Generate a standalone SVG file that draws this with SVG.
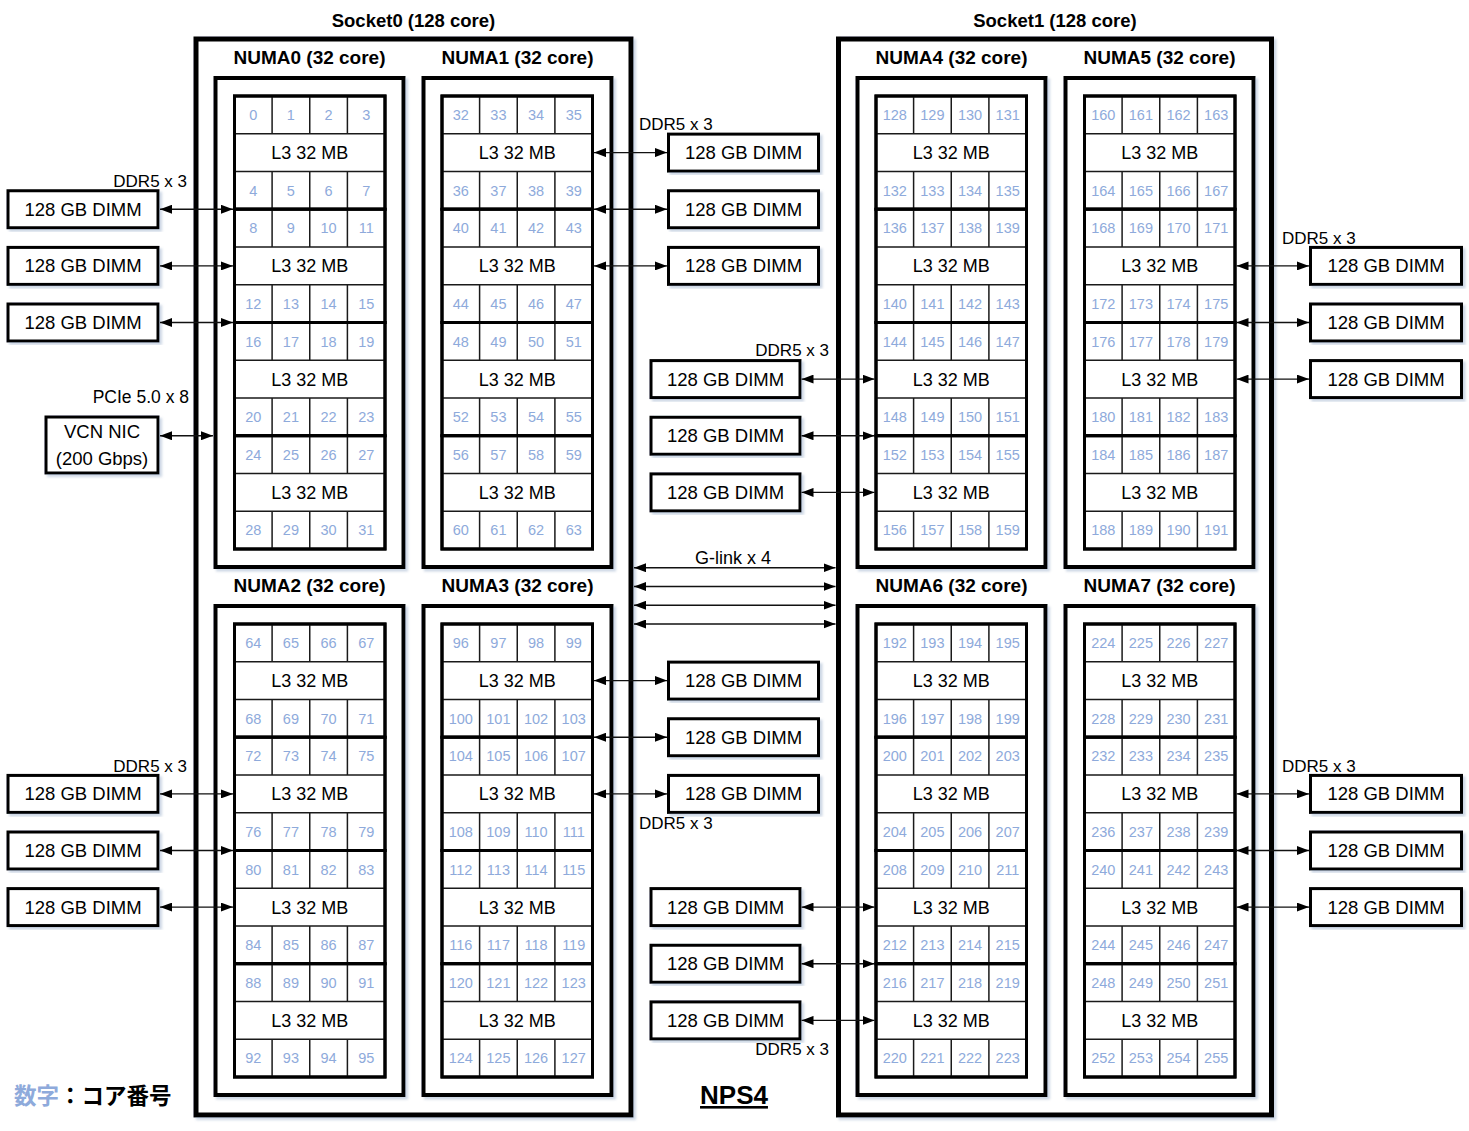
<svg xmlns="http://www.w3.org/2000/svg" xmlns:xlink="http://www.w3.org/1999/xlink" width="1469" height="1131" viewBox="0 0 1469 1131">
<style>
text{font-family:'Liberation Sans',Arial,sans-serif;fill:#000}
.sock{fill:#fff;stroke:#000;stroke-width:5;filter:url(#sh)}
.numa{fill:#fff;stroke:#000;stroke-width:4;filter:url(#sh)}
.ccd{fill:#fff;stroke:#000;stroke-width:3}
.in{fill:none;stroke:#1a1a1a;stroke-width:1.5}
.dimm{fill:#fff;stroke:#000;stroke-width:3;filter:url(#sh)}
.c{font-size:14.5px;fill:#8eaadb;text-anchor:middle}
.l3{font-size:18px;text-anchor:middle}
.dt{font-size:18.5px;text-anchor:middle}
.h1{font-size:18.5px;font-weight:bold;text-anchor:middle}
.h2{font-size:19px;font-weight:bold;text-anchor:middle}
.lb{font-size:17px}
.ar{stroke:#111;stroke-width:1.4;fill:none;marker-start:url(#ah);marker-end:url(#ah)}
</style>
<defs>
<filter id="sh" x="-5%" y="-5%" width="115%" height="115%"><feDropShadow dx="2.5" dy="2.5" stdDeviation="1" flood-color="#8fa6c4" flood-opacity="0.45"/></filter>
<marker id="ah" viewBox="0 0 12 9" refX="12" refY="4.5" markerWidth="12" markerHeight="9" markerUnits="userSpaceOnUse" orient="auto-start-reverse"><path d="M0,0L12,4.5L0,9z" fill="#000"/></marker>
<g id="fr"><rect class="ccd" width="150.5" height="113.25"/><path class="in" d="M0 37.75H150.5M0 75.5H150.5M37.6 0V37.75M75.25 0V37.75M112.9 0V37.75M37.6 75.5V113.25M75.25 75.5V113.25M112.9 75.5V113.25"/><rect width="150.5" height="113.25" fill="none" stroke="#000" stroke-width="3"/></g>
</defs>
<rect width="1469" height="1131" fill="#fff"/>

<g id="socket0">
<rect class="sock" x="196" y="39" width="435" height="1076"/>
<text class="h1" x="413.5" y="27">Socket0 (128 core)</text>
</g>
<g id="socket1">
<rect class="sock" x="838.5" y="39" width="433" height="1076"/>
<text class="h1" x="1055" y="27">Socket1 (128 core)</text>
</g>

<g id="numa0">
<rect class="numa" x="215.5" y="78" width="188" height="489"/>
<text class="h2" x="309.5" y="64">NUMA0 (32 core)</text>
<g transform="translate(234.5,96)">
<g><use href="#fr"/><text class="c" y="24.1"><tspan x="18.8">0</tspan><tspan x="56.4">1</tspan><tspan x="94.1">2</tspan><tspan x="131.7">3</tspan></text><text class="l3" x="75.25" y="63">L3 32 MB</text><text class="c" y="99.6"><tspan x="18.8">4</tspan><tspan x="56.4">5</tspan><tspan x="94.1">6</tspan><tspan x="131.7">7</tspan></text></g>
<g transform="translate(0,113.25)"><use href="#fr"/><text class="c" y="24.1"><tspan x="18.8">8</tspan><tspan x="56.4">9</tspan><tspan x="94.1">10</tspan><tspan x="131.7">11</tspan></text><text class="l3" x="75.25" y="63">L3 32 MB</text><text class="c" y="99.6"><tspan x="18.8">12</tspan><tspan x="56.4">13</tspan><tspan x="94.1">14</tspan><tspan x="131.7">15</tspan></text></g>
<g transform="translate(0,226.5)"><use href="#fr"/><text class="c" y="24.1"><tspan x="18.8">16</tspan><tspan x="56.4">17</tspan><tspan x="94.1">18</tspan><tspan x="131.7">19</tspan></text><text class="l3" x="75.25" y="63">L3 32 MB</text><text class="c" y="99.6"><tspan x="18.8">20</tspan><tspan x="56.4">21</tspan><tspan x="94.1">22</tspan><tspan x="131.7">23</tspan></text></g>
<g transform="translate(0,339.75)"><use href="#fr"/><text class="c" y="24.1"><tspan x="18.8">24</tspan><tspan x="56.4">25</tspan><tspan x="94.1">26</tspan><tspan x="131.7">27</tspan></text><text class="l3" x="75.25" y="63">L3 32 MB</text><text class="c" y="99.6"><tspan x="18.8">28</tspan><tspan x="56.4">29</tspan><tspan x="94.1">30</tspan><tspan x="131.7">31</tspan></text></g>
</g>
</g>

<g id="numa1">
<rect class="numa" x="423.5" y="78" width="188" height="489"/>
<text class="h2" x="517.5" y="64">NUMA1 (32 core)</text>
<g transform="translate(442,96)">
<g><use href="#fr"/><text class="c" y="24.1"><tspan x="18.8">32</tspan><tspan x="56.4">33</tspan><tspan x="94.1">34</tspan><tspan x="131.7">35</tspan></text><text class="l3" x="75.25" y="63">L3 32 MB</text><text class="c" y="99.6"><tspan x="18.8">36</tspan><tspan x="56.4">37</tspan><tspan x="94.1">38</tspan><tspan x="131.7">39</tspan></text></g>
<g transform="translate(0,113.25)"><use href="#fr"/><text class="c" y="24.1"><tspan x="18.8">40</tspan><tspan x="56.4">41</tspan><tspan x="94.1">42</tspan><tspan x="131.7">43</tspan></text><text class="l3" x="75.25" y="63">L3 32 MB</text><text class="c" y="99.6"><tspan x="18.8">44</tspan><tspan x="56.4">45</tspan><tspan x="94.1">46</tspan><tspan x="131.7">47</tspan></text></g>
<g transform="translate(0,226.5)"><use href="#fr"/><text class="c" y="24.1"><tspan x="18.8">48</tspan><tspan x="56.4">49</tspan><tspan x="94.1">50</tspan><tspan x="131.7">51</tspan></text><text class="l3" x="75.25" y="63">L3 32 MB</text><text class="c" y="99.6"><tspan x="18.8">52</tspan><tspan x="56.4">53</tspan><tspan x="94.1">54</tspan><tspan x="131.7">55</tspan></text></g>
<g transform="translate(0,339.75)"><use href="#fr"/><text class="c" y="24.1"><tspan x="18.8">56</tspan><tspan x="56.4">57</tspan><tspan x="94.1">58</tspan><tspan x="131.7">59</tspan></text><text class="l3" x="75.25" y="63">L3 32 MB</text><text class="c" y="99.6"><tspan x="18.8">60</tspan><tspan x="56.4">61</tspan><tspan x="94.1">62</tspan><tspan x="131.7">63</tspan></text></g>
</g>
</g>

<g id="numa2">
<rect class="numa" x="215.5" y="606" width="188" height="489"/>
<text class="h2" x="309.5" y="592">NUMA2 (32 core)</text>
<g transform="translate(234.5,624)">
<g><use href="#fr"/><text class="c" y="24.1"><tspan x="18.8">64</tspan><tspan x="56.4">65</tspan><tspan x="94.1">66</tspan><tspan x="131.7">67</tspan></text><text class="l3" x="75.25" y="63">L3 32 MB</text><text class="c" y="99.6"><tspan x="18.8">68</tspan><tspan x="56.4">69</tspan><tspan x="94.1">70</tspan><tspan x="131.7">71</tspan></text></g>
<g transform="translate(0,113.25)"><use href="#fr"/><text class="c" y="24.1"><tspan x="18.8">72</tspan><tspan x="56.4">73</tspan><tspan x="94.1">74</tspan><tspan x="131.7">75</tspan></text><text class="l3" x="75.25" y="63">L3 32 MB</text><text class="c" y="99.6"><tspan x="18.8">76</tspan><tspan x="56.4">77</tspan><tspan x="94.1">78</tspan><tspan x="131.7">79</tspan></text></g>
<g transform="translate(0,226.5)"><use href="#fr"/><text class="c" y="24.1"><tspan x="18.8">80</tspan><tspan x="56.4">81</tspan><tspan x="94.1">82</tspan><tspan x="131.7">83</tspan></text><text class="l3" x="75.25" y="63">L3 32 MB</text><text class="c" y="99.6"><tspan x="18.8">84</tspan><tspan x="56.4">85</tspan><tspan x="94.1">86</tspan><tspan x="131.7">87</tspan></text></g>
<g transform="translate(0,339.75)"><use href="#fr"/><text class="c" y="24.1"><tspan x="18.8">88</tspan><tspan x="56.4">89</tspan><tspan x="94.1">90</tspan><tspan x="131.7">91</tspan></text><text class="l3" x="75.25" y="63">L3 32 MB</text><text class="c" y="99.6"><tspan x="18.8">92</tspan><tspan x="56.4">93</tspan><tspan x="94.1">94</tspan><tspan x="131.7">95</tspan></text></g>
</g>
</g>

<g id="numa3">
<rect class="numa" x="423.5" y="606" width="188" height="489"/>
<text class="h2" x="517.5" y="592">NUMA3 (32 core)</text>
<g transform="translate(442,624)">
<g><use href="#fr"/><text class="c" y="24.1"><tspan x="18.8">96</tspan><tspan x="56.4">97</tspan><tspan x="94.1">98</tspan><tspan x="131.7">99</tspan></text><text class="l3" x="75.25" y="63">L3 32 MB</text><text class="c" y="99.6"><tspan x="18.8">100</tspan><tspan x="56.4">101</tspan><tspan x="94.1">102</tspan><tspan x="131.7">103</tspan></text></g>
<g transform="translate(0,113.25)"><use href="#fr"/><text class="c" y="24.1"><tspan x="18.8">104</tspan><tspan x="56.4">105</tspan><tspan x="94.1">106</tspan><tspan x="131.7">107</tspan></text><text class="l3" x="75.25" y="63">L3 32 MB</text><text class="c" y="99.6"><tspan x="18.8">108</tspan><tspan x="56.4">109</tspan><tspan x="94.1">110</tspan><tspan x="131.7">111</tspan></text></g>
<g transform="translate(0,226.5)"><use href="#fr"/><text class="c" y="24.1"><tspan x="18.8">112</tspan><tspan x="56.4">113</tspan><tspan x="94.1">114</tspan><tspan x="131.7">115</tspan></text><text class="l3" x="75.25" y="63">L3 32 MB</text><text class="c" y="99.6"><tspan x="18.8">116</tspan><tspan x="56.4">117</tspan><tspan x="94.1">118</tspan><tspan x="131.7">119</tspan></text></g>
<g transform="translate(0,339.75)"><use href="#fr"/><text class="c" y="24.1"><tspan x="18.8">120</tspan><tspan x="56.4">121</tspan><tspan x="94.1">122</tspan><tspan x="131.7">123</tspan></text><text class="l3" x="75.25" y="63">L3 32 MB</text><text class="c" y="99.6"><tspan x="18.8">124</tspan><tspan x="56.4">125</tspan><tspan x="94.1">126</tspan><tspan x="131.7">127</tspan></text></g>
</g>
</g>

<g id="numa4">
<rect class="numa" x="857.5" y="78" width="188" height="489"/>
<text class="h2" x="951.5" y="64">NUMA4 (32 core)</text>
<g transform="translate(876,96)">
<g><use href="#fr"/><text class="c" y="24.1"><tspan x="18.8">128</tspan><tspan x="56.4">129</tspan><tspan x="94.1">130</tspan><tspan x="131.7">131</tspan></text><text class="l3" x="75.25" y="63">L3 32 MB</text><text class="c" y="99.6"><tspan x="18.8">132</tspan><tspan x="56.4">133</tspan><tspan x="94.1">134</tspan><tspan x="131.7">135</tspan></text></g>
<g transform="translate(0,113.25)"><use href="#fr"/><text class="c" y="24.1"><tspan x="18.8">136</tspan><tspan x="56.4">137</tspan><tspan x="94.1">138</tspan><tspan x="131.7">139</tspan></text><text class="l3" x="75.25" y="63">L3 32 MB</text><text class="c" y="99.6"><tspan x="18.8">140</tspan><tspan x="56.4">141</tspan><tspan x="94.1">142</tspan><tspan x="131.7">143</tspan></text></g>
<g transform="translate(0,226.5)"><use href="#fr"/><text class="c" y="24.1"><tspan x="18.8">144</tspan><tspan x="56.4">145</tspan><tspan x="94.1">146</tspan><tspan x="131.7">147</tspan></text><text class="l3" x="75.25" y="63">L3 32 MB</text><text class="c" y="99.6"><tspan x="18.8">148</tspan><tspan x="56.4">149</tspan><tspan x="94.1">150</tspan><tspan x="131.7">151</tspan></text></g>
<g transform="translate(0,339.75)"><use href="#fr"/><text class="c" y="24.1"><tspan x="18.8">152</tspan><tspan x="56.4">153</tspan><tspan x="94.1">154</tspan><tspan x="131.7">155</tspan></text><text class="l3" x="75.25" y="63">L3 32 MB</text><text class="c" y="99.6"><tspan x="18.8">156</tspan><tspan x="56.4">157</tspan><tspan x="94.1">158</tspan><tspan x="131.7">159</tspan></text></g>
</g>
</g>

<g id="numa5">
<rect class="numa" x="1065.5" y="78" width="188" height="489"/>
<text class="h2" x="1159.5" y="64">NUMA5 (32 core)</text>
<g transform="translate(1084.5,96)">
<g><use href="#fr"/><text class="c" y="24.1"><tspan x="18.8">160</tspan><tspan x="56.4">161</tspan><tspan x="94.1">162</tspan><tspan x="131.7">163</tspan></text><text class="l3" x="75.25" y="63">L3 32 MB</text><text class="c" y="99.6"><tspan x="18.8">164</tspan><tspan x="56.4">165</tspan><tspan x="94.1">166</tspan><tspan x="131.7">167</tspan></text></g>
<g transform="translate(0,113.25)"><use href="#fr"/><text class="c" y="24.1"><tspan x="18.8">168</tspan><tspan x="56.4">169</tspan><tspan x="94.1">170</tspan><tspan x="131.7">171</tspan></text><text class="l3" x="75.25" y="63">L3 32 MB</text><text class="c" y="99.6"><tspan x="18.8">172</tspan><tspan x="56.4">173</tspan><tspan x="94.1">174</tspan><tspan x="131.7">175</tspan></text></g>
<g transform="translate(0,226.5)"><use href="#fr"/><text class="c" y="24.1"><tspan x="18.8">176</tspan><tspan x="56.4">177</tspan><tspan x="94.1">178</tspan><tspan x="131.7">179</tspan></text><text class="l3" x="75.25" y="63">L3 32 MB</text><text class="c" y="99.6"><tspan x="18.8">180</tspan><tspan x="56.4">181</tspan><tspan x="94.1">182</tspan><tspan x="131.7">183</tspan></text></g>
<g transform="translate(0,339.75)"><use href="#fr"/><text class="c" y="24.1"><tspan x="18.8">184</tspan><tspan x="56.4">185</tspan><tspan x="94.1">186</tspan><tspan x="131.7">187</tspan></text><text class="l3" x="75.25" y="63">L3 32 MB</text><text class="c" y="99.6"><tspan x="18.8">188</tspan><tspan x="56.4">189</tspan><tspan x="94.1">190</tspan><tspan x="131.7">191</tspan></text></g>
</g>
</g>

<g id="numa6">
<rect class="numa" x="857.5" y="606" width="188" height="489"/>
<text class="h2" x="951.5" y="592">NUMA6 (32 core)</text>
<g transform="translate(876,624)">
<g><use href="#fr"/><text class="c" y="24.1"><tspan x="18.8">192</tspan><tspan x="56.4">193</tspan><tspan x="94.1">194</tspan><tspan x="131.7">195</tspan></text><text class="l3" x="75.25" y="63">L3 32 MB</text><text class="c" y="99.6"><tspan x="18.8">196</tspan><tspan x="56.4">197</tspan><tspan x="94.1">198</tspan><tspan x="131.7">199</tspan></text></g>
<g transform="translate(0,113.25)"><use href="#fr"/><text class="c" y="24.1"><tspan x="18.8">200</tspan><tspan x="56.4">201</tspan><tspan x="94.1">202</tspan><tspan x="131.7">203</tspan></text><text class="l3" x="75.25" y="63">L3 32 MB</text><text class="c" y="99.6"><tspan x="18.8">204</tspan><tspan x="56.4">205</tspan><tspan x="94.1">206</tspan><tspan x="131.7">207</tspan></text></g>
<g transform="translate(0,226.5)"><use href="#fr"/><text class="c" y="24.1"><tspan x="18.8">208</tspan><tspan x="56.4">209</tspan><tspan x="94.1">210</tspan><tspan x="131.7">211</tspan></text><text class="l3" x="75.25" y="63">L3 32 MB</text><text class="c" y="99.6"><tspan x="18.8">212</tspan><tspan x="56.4">213</tspan><tspan x="94.1">214</tspan><tspan x="131.7">215</tspan></text></g>
<g transform="translate(0,339.75)"><use href="#fr"/><text class="c" y="24.1"><tspan x="18.8">216</tspan><tspan x="56.4">217</tspan><tspan x="94.1">218</tspan><tspan x="131.7">219</tspan></text><text class="l3" x="75.25" y="63">L3 32 MB</text><text class="c" y="99.6"><tspan x="18.8">220</tspan><tspan x="56.4">221</tspan><tspan x="94.1">222</tspan><tspan x="131.7">223</tspan></text></g>
</g>
</g>

<g id="numa7">
<rect class="numa" x="1065.5" y="606" width="188" height="489"/>
<text class="h2" x="1159.5" y="592">NUMA7 (32 core)</text>
<g transform="translate(1084.5,624)">
<g><use href="#fr"/><text class="c" y="24.1"><tspan x="18.8">224</tspan><tspan x="56.4">225</tspan><tspan x="94.1">226</tspan><tspan x="131.7">227</tspan></text><text class="l3" x="75.25" y="63">L3 32 MB</text><text class="c" y="99.6"><tspan x="18.8">228</tspan><tspan x="56.4">229</tspan><tspan x="94.1">230</tspan><tspan x="131.7">231</tspan></text></g>
<g transform="translate(0,113.25)"><use href="#fr"/><text class="c" y="24.1"><tspan x="18.8">232</tspan><tspan x="56.4">233</tspan><tspan x="94.1">234</tspan><tspan x="131.7">235</tspan></text><text class="l3" x="75.25" y="63">L3 32 MB</text><text class="c" y="99.6"><tspan x="18.8">236</tspan><tspan x="56.4">237</tspan><tspan x="94.1">238</tspan><tspan x="131.7">239</tspan></text></g>
<g transform="translate(0,226.5)"><use href="#fr"/><text class="c" y="24.1"><tspan x="18.8">240</tspan><tspan x="56.4">241</tspan><tspan x="94.1">242</tspan><tspan x="131.7">243</tspan></text><text class="l3" x="75.25" y="63">L3 32 MB</text><text class="c" y="99.6"><tspan x="18.8">244</tspan><tspan x="56.4">245</tspan><tspan x="94.1">246</tspan><tspan x="131.7">247</tspan></text></g>
<g transform="translate(0,339.75)"><use href="#fr"/><text class="c" y="24.1"><tspan x="18.8">248</tspan><tspan x="56.4">249</tspan><tspan x="94.1">250</tspan><tspan x="131.7">251</tspan></text><text class="l3" x="75.25" y="63">L3 32 MB</text><text class="c" y="99.6"><tspan x="18.8">252</tspan><tspan x="56.4">253</tspan><tspan x="94.1">254</tspan><tspan x="131.7">255</tspan></text></g>
</g>
</g>

<g id="dimm-n0-1"><rect class="dimm" x="8" y="190.75" width="150" height="37"/><text class="dt" x="83" y="215.75">128 GB DIMM</text></g>
<g id="dimm-n0-2"><rect class="dimm" x="8" y="247.4" width="150" height="37"/><text class="dt" x="83" y="272.4">128 GB DIMM</text></g>
<g id="dimm-n0-3"><rect class="dimm" x="8" y="304" width="150" height="37"/><text class="dt" x="83" y="329">128 GB DIMM</text></g>
<g id="nic"><rect class="dimm" x="46" y="417" width="112" height="56"/><text class="dt" x="102" y="438.3">VCN NIC</text><text class="dt" x="102" y="465">(200 Gbps)</text></g>

<g id="dimm-n1-1"><rect class="dimm" x="668.5" y="134.1" width="150" height="37"/><text class="dt" x="743.5" y="159.1">128 GB DIMM</text></g>
<g id="dimm-n1-2"><rect class="dimm" x="668.5" y="190.75" width="150" height="37"/><text class="dt" x="743.5" y="215.75">128 GB DIMM</text></g>
<g id="dimm-n1-3"><rect class="dimm" x="668.5" y="247.4" width="150" height="37"/><text class="dt" x="743.5" y="272.4">128 GB DIMM</text></g>

<g id="dimm-n4-1"><rect class="dimm" x="651" y="360.6" width="149" height="37"/><text class="dt" x="725.5" y="385.6">128 GB DIMM</text></g>
<g id="dimm-n4-2"><rect class="dimm" x="651" y="417.25" width="149" height="37"/><text class="dt" x="725.5" y="442.25">128 GB DIMM</text></g>
<g id="dimm-n4-3"><rect class="dimm" x="651" y="473.9" width="149" height="37"/><text class="dt" x="725.5" y="498.9">128 GB DIMM</text></g>

<g id="dimm-n5-1"><rect class="dimm" x="1310.5" y="247.4" width="151" height="37"/><text class="dt" x="1386" y="272.4">128 GB DIMM</text></g>
<g id="dimm-n5-2"><rect class="dimm" x="1310.5" y="304" width="151" height="37"/><text class="dt" x="1386" y="329">128 GB DIMM</text></g>
<g id="dimm-n5-3"><rect class="dimm" x="1310.5" y="360.6" width="151" height="37"/><text class="dt" x="1386" y="385.6">128 GB DIMM</text></g>

<g id="dimm-n2-1"><rect class="dimm" x="8" y="775.4" width="150" height="37"/><text class="dt" x="83" y="800.4">128 GB DIMM</text></g>
<g id="dimm-n2-2"><rect class="dimm" x="8" y="832" width="150" height="37"/><text class="dt" x="83" y="857">128 GB DIMM</text></g>
<g id="dimm-n2-3"><rect class="dimm" x="8" y="888.6" width="150" height="37"/><text class="dt" x="83" y="913.6">128 GB DIMM</text></g>

<g id="dimm-n3-1"><rect class="dimm" x="668.5" y="662.1" width="150" height="37"/><text class="dt" x="743.5" y="687.1">128 GB DIMM</text></g>
<g id="dimm-n3-2"><rect class="dimm" x="668.5" y="718.75" width="150" height="37"/><text class="dt" x="743.5" y="743.75">128 GB DIMM</text></g>
<g id="dimm-n3-3"><rect class="dimm" x="668.5" y="775.4" width="150" height="37"/><text class="dt" x="743.5" y="800.4">128 GB DIMM</text></g>

<g id="dimm-n6-1"><rect class="dimm" x="651" y="888.6" width="149" height="37"/><text class="dt" x="725.5" y="913.6">128 GB DIMM</text></g>
<g id="dimm-n6-2"><rect class="dimm" x="651" y="945.25" width="149" height="37"/><text class="dt" x="725.5" y="970.25">128 GB DIMM</text></g>
<g id="dimm-n6-3"><rect class="dimm" x="651" y="1001.9" width="149" height="37"/><text class="dt" x="725.5" y="1026.9">128 GB DIMM</text></g>

<g id="dimm-n7-1"><rect class="dimm" x="1310.5" y="775.4" width="151" height="37"/><text class="dt" x="1386" y="800.4">128 GB DIMM</text></g>
<g id="dimm-n7-2"><rect class="dimm" x="1310.5" y="832" width="151" height="37"/><text class="dt" x="1386" y="857">128 GB DIMM</text></g>
<g id="dimm-n7-3"><rect class="dimm" x="1310.5" y="888.6" width="151" height="37"/><text class="dt" x="1386" y="913.6">128 GB DIMM</text></g>

<g id="connectors">
<path class="ar" d="M160 209.25H233"/>
<path class="ar" d="M160 265.9H233"/>
<path class="ar" d="M160 322.5H233"/>
<path class="ar" d="M160 435.75H213"/>
<path class="ar" d="M594 152.6H667"/>
<path class="ar" d="M594 209.25H667"/>
<path class="ar" d="M594 265.9H667"/>
<path class="ar" d="M801.5 379.1H874.5"/>
<path class="ar" d="M801.5 435.75H874.5"/>
<path class="ar" d="M801.5 492.4H874.5"/>
<path class="ar" d="M1236.5 265.9H1309"/>
<path class="ar" d="M1236.5 322.5H1309"/>
<path class="ar" d="M1236.5 379.1H1309"/>
<path class="ar" d="M634 567.7H835.5"/>
<path class="ar" d="M634 586.5H835.5"/>
<path class="ar" d="M634 605.3H835.5"/>
<path class="ar" d="M634 624H835.5"/>
<path class="ar" d="M160 793.9H233"/>
<path class="ar" d="M160 850.5H233"/>
<path class="ar" d="M160 907.1H233"/>
<path class="ar" d="M594 680.6H667"/>
<path class="ar" d="M594 737.25H667"/>
<path class="ar" d="M594 793.9H667"/>
<path class="ar" d="M801.5 907.1H874.5"/>
<path class="ar" d="M801.5 963.75H874.5"/>
<path class="ar" d="M801.5 1020.4H874.5"/>
<path class="ar" d="M1236.5 793.9H1309"/>
<path class="ar" d="M1236.5 850.5H1309"/>
<path class="ar" d="M1236.5 907.1H1309"/>
</g>

<g id="labels">
<text class="lb" x="187" y="187" text-anchor="end">DDR5 x 3</text>
<text class="lb" x="189" y="403" text-anchor="end" style="font-size:17.5px">PCIe 5.0 x 8</text>
<text class="lb" x="639" y="129.5">DDR5 x 3</text>
<text class="lb" x="829" y="356" text-anchor="end">DDR5 x 3</text>
<text class="lb" x="1282" y="243.5">DDR5 x 3</text>
<text class="lb" x="733" y="563.5" text-anchor="middle" style="font-size:18px">G-link x 4</text>
<text class="lb" x="187" y="772" text-anchor="end">DDR5 x 3</text>
<text class="lb" x="639" y="828.5">DDR5 x 3</text>
<text class="lb" x="1282" y="772">DDR5 x 3</text>
<text class="lb" x="829" y="1054.5" text-anchor="end">DDR5 x 3</text>
<text x="734" y="1104" text-anchor="middle" style="font-size:26px;font-weight:bold;text-decoration:underline">NPS4</text>
<text x="14" y="1104" style="font-family:'Noto Sans CJK JP',sans-serif;font-size:22.5px;font-weight:bold"><tspan fill="#8eaadb">数字</tspan><tspan>：コア番号</tspan></text>
</g>
</svg>
